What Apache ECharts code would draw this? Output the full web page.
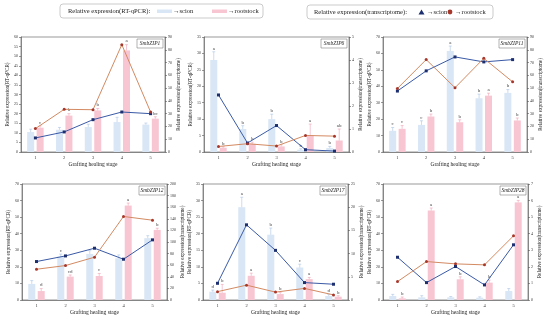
<!DOCTYPE html>
<html><head><meta charset="utf-8">
<script src="https://cdn.jsdelivr.net/npm/echarts@6/dist/echarts.min.js"></script>
<style>html,body{margin:0;padding:0;background:#fff}#c{width:550px;height:320px}</style>
</head><body><div id="c"></div>
<script>
const stages = ['1','2','3','4','5'];
const genes = ['SmbZIP1','SmbZIP6','SmbZIP11','SmbZIP12','SmbZIP17','SmbZIP28'];

const p1ScionBar = [10.4, 11.6, 13, 15.6, 14.3];
const p1RootBar  = [12.7, 19, 21.7, 53, 17.4];
const p1ScionErr = [1.5, 1.2, 1.5, 2.5, 0.8];
const p1RootErr  = [1, 1, 1, 3, 1];
const p1ScionLine = [11, 15.7, 25.3, 31.3, 30];
const p1RootLine  = [18.3, 33.4, 33.1, 84, 31.3];
const p1ScionSig = ['', '', '', '', ''];
const p1RootSig  = ['c', 'b', 'b', 'a', 'bc'];

const p2ScionBar = [28, 7, 10, 0.7, 1.2];
const p2RootBar  = [1.3, 2.5, 1.7, 5, 3.5];
const p2ScionErr = [2.5, 1, 1.5, 0.3, 0.5];
const p2RootErr  = [0.3, 0.5, 0.5, 3.5, 3.5];
const p2ScionLine = [2.48, 0.39, 1.15, 0.1, 0.04];
const p2RootLine  = [0.24, 0.36, 0.26, 0.72, 0.69];
const p2ScionSig = ['a', 'b', 'b', 'b', 'b'];
const p2RootSig  = ['b', 'b', 'b', 'a', 'ab'];

const p3ScionBar = [12.9, 16.5, 61.5, 32.7, 36];
const p3RootBar  = [14.1, 21.6, 18.1, 34.3, 19.2];
const p3ScionErr = [2, 2.5, 3, 2.5, 2];
const p3RootErr  = [2, 1.5, 1.5, 1.5, 1.5];
const p3ScionLine = [47.7, 63.5, 74.4, 70.5, 72.3];
const p3RootLine  = [49.7, 72.3, 50.3, 73.3, 54.9];
const p3ScionSig = ['c', 'c', 'a', 'b', 'b'];
const p3RootSig  = ['c', 'b', 'b', 'a', 'b'];

const p4ScionBar = [9.7, 26.2, 27.8, 25.2, 37.3];
const p4RootBar  = [5.4, 14.1, 14.5, 57, 42.3];
const p4ScionErr = [2, 1.5, 2, 2, 1.5];
const p4RootErr  = [1.5, 1, 1.5, 1.5, 1];
const p4ScionLine = [66.3, 76, 89.3, 70.3, 103.7];
const p4RootLine  = [53, 59.4, 73.8, 144, 137.6];
const p4ScionSig = ['', 'c', '', '', ''];
const p4RootSig  = ['d', 'cd', 'c', 'a', 'b'];

const p5ScionBar = [2.5, 28, 19.7, 9.8, 1.2];
const p5RootBar  = [2.2, 7.3, 1.8, 6.3, 1];
const p5ScionErr = [0.5, 3, 2, 1, 0.5];
const p5RootErr  = [2.5, 0.8, 0.5, 0.5, 0.3];
const p5ScionLine = [3.6, 16.2, 10.7, 3.75, 3.4];
const p5RootLine  = [1.8, 3.2, 1.7, 2.5, 1.1];
const p5ScionSig = ['d', 'a', 'b', 'c', 'd'];
const p5RootSig  = ['b', 'a', 'b', 'a', 'b'];

const p6ScionBar = [2.4, 1.6, 1.6, 1.4, 5.4];
const p6RootBar  = [1, 54, 12.5, 10.5, 58.9];
const p6ScionErr = [1, 1, 0.5, 0.5, 1.5];
const p6RootErr  = [0.8, 1.5, 1.5, 1.5, 1.2];
const p6ScionLine = [2.58, 1.05, 2.02, 0.91, 3.33];
const p6RootLine  = [1.11, 2.32, 2.18, 2.12, 3.87];
const p6ScionSig = ['', '', '', '', ''];
const p6RootSig  = ['b', 'a', 'b', 'b', 'a'];

const leftMax = [60, 35, 70, 70, 35, 70];
const leftStep = [5, 5, 10, 10, 5, 10];
const rightMax = [90, 5, 90, 200, 25, 7];
const rightStep = [10, 1, 10, 20, 5, 1];

const panels = [
  [p1ScionBar, p1RootBar, p1ScionErr, p1RootErr, p1ScionLine, p1RootLine, p1ScionSig, p1RootSig],
  [p2ScionBar, p2RootBar, p2ScionErr, p2RootErr, p2ScionLine, p2RootLine, p2ScionSig, p2RootSig],
  [p3ScionBar, p3RootBar, p3ScionErr, p3RootErr, p3ScionLine, p3RootLine, p3ScionSig, p3RootSig],
  [p4ScionBar, p4RootBar, p4ScionErr, p4RootErr, p4ScionLine, p4RootLine, p4ScionSig, p4RootSig],
  [p5ScionBar, p5RootBar, p5ScionErr, p5RootErr, p5ScionLine, p5RootLine, p5ScionSig, p5RootSig],
  [p6ScionBar, p6RootBar, p6ScionErr, p6RootErr, p6ScionLine, p6RootLine, p6ScionSig, p6RootSig]
];

const FONT = 'Liberation Serif';
const gridBoxes = [
  {left: 21, top: 37, width: 144, height: 115},
  {left: 204, top: 37, width: 145, height: 115},
  {left: 383, top: 37, width: 144, height: 115},
  {left: 22, top: 184, width: 145, height: 116},
  {left: 203, top: 184, width: 145, height: 116},
  {left: 383, top: 184, width: 145, height: 116}
];
const BAR_W = 7, BAR_GAP = 0.35;
const OFF = (BAR_W + BAR_W * BAR_GAP) / 2;
const SCION_BAR = '#d8e6f6', ROOT_BAR = '#f8c6d3';
const SCION_LINE = '#3a5aa6', ROOT_LINE = '#d38a62';
const SCION_MK = '#1d2f6f', ROOT_MK = '#a8372b';

const grid = [], xAxis = [], yAxis = [], series = [], graphic = [];

function errSeries(pi, vals, errs, sig, side, color) {
  return {
    type: 'custom', xAxisIndex: pi, yAxisIndex: pi * 2, z: 4, silent: true,
    data: vals.map((v, i) => [i, v, errs[i]]),
    renderItem: function (params, api) {
      const i = api.value(0), v = api.value(1), e = api.value(2);
      const b = api.coord([i, v]);
      const t = api.coord([i, v + e]);
      const x = b[0] + side * OFF;
      const kids = [
        {type: 'line', shape: {x1: x, y1: b[1], x2: x, y2: t[1]}, style: {stroke: color, lineWidth: 0.6}},
        {type: 'line', shape: {x1: x - 1.5, y1: t[1], x2: x + 1.5, y2: t[1]}, style: {stroke: color, lineWidth: 0.6}}
      ];
      const s = sig[params.dataIndex];
      if (s) kids.push({type: 'text', style: {text: s, x: x, y: t[1] - 1, align: 'center', verticalAlign: 'bottom', fontSize: 5, fontFamily: FONT, fill: '#444'}});
      return {type: 'group', children: kids};
    }
  };
}

panels.forEach((p, pi) => {
  const g = gridBoxes[pi];
  grid.push(Object.assign({show: true, borderColor: '#555', borderWidth: 0.6, backgroundColor: 'transparent'}, g));
  xAxis.push({
    type: 'category', gridIndex: pi, data: stages,
    name: 'Grafting healing stage', nameLocation: 'middle', nameGap: 10,
    nameTextStyle: {fontFamily: FONT, fontSize: 5.5, color: '#222'},
    axisLine: {lineStyle: {color: '#555', width: 0.6}},
    axisTick: {alignWithLabel: true, length: 2, lineStyle: {color: '#555', width: 0.6}},
    axisLabel: {fontFamily: FONT, fontSize: 4.5, color: '#333', margin: 3}
  });
  const yCommon = {
    type: 'value', gridIndex: pi, min: 0, nameLocation: 'middle', nameRotate: 90,
    nameTextStyle: {fontFamily: FONT, fontSize: 5.2, color: '#222'},
    axisLine: {show: true, lineStyle: {color: '#555', width: 0.6}},
    axisTick: {show: true, length: 2, lineStyle: {color: '#555', width: 0.6}},
    axisLabel: {fontFamily: FONT, fontSize: 4, color: '#333', margin: 3},
    splitLine: {show: false}
  };
  yAxis.push(Object.assign({}, yCommon, {position: 'left', max: leftMax[pi], interval: leftStep[pi], nameGap: 9, name: 'Relative expression(RT-qPCR)'}));
  yAxis.push(Object.assign({}, yCommon, {position: 'right', max: rightMax[pi], interval: rightStep[pi], nameGap: 9, name: 'Relative expression(transcriptome)'}));

  series.push({type: 'bar', name: 'scion (RT-qPCR)', xAxisIndex: pi, yAxisIndex: pi * 2, data: p[0], barWidth: BAR_W, barGap: (BAR_GAP * 100) + '%', itemStyle: {color: SCION_BAR}});
  series.push({type: 'bar', name: 'rootstock (RT-qPCR)', xAxisIndex: pi, yAxisIndex: pi * 2, data: p[1], barWidth: BAR_W, itemStyle: {color: ROOT_BAR}});
  series.push(errSeries(pi, p[0], p[2], p[6], -1, '#a9c3e3'));
  series.push(errSeries(pi, p[1], p[3], p[7], 1, '#eea3b6'));
  series.push({type: 'line', name: 'scion (transcriptome)', xAxisIndex: pi, yAxisIndex: pi * 2 + 1, data: p[4], z: 6,
    symbol: 'rect', symbolSize: 3, lineStyle: {color: SCION_LINE, width: 1}, itemStyle: {color: SCION_MK}});
  series.push({type: 'line', name: 'rootstock (transcriptome)', xAxisIndex: pi, yAxisIndex: pi * 2 + 1, data: p[5], z: 6,
    symbol: 'circle', symbolSize: 3, lineStyle: {color: ROOT_LINE, width: 1}, itemStyle: {color: ROOT_MK}});

  const bx = g.left + g.width - 28, by = g.top + 2;
  graphic.push({type: 'rect', shape: {x: bx, y: by, width: 26, height: 9}, style: {fill: '#fff', stroke: '#666', lineWidth: 0.5}, z: 10});
  graphic.push({type: 'text', x: bx + 13, y: by + 4.5, style: {text: genes[pi], align: 'center', verticalAlign: 'middle', fontFamily: FONT, fontStyle: 'italic', fontSize: 5.5, fill: '#222'}, z: 11});
});

const legFont = {fontFamily: FONT, fontSize: 6.5, fill: '#222', verticalAlign: 'middle'};
graphic.push({type: 'rect', shape: {x: 60, y: 4, width: 203, height: 14, r: 3}, style: {fill: '#fff', stroke: '#aaa', lineWidth: 0.6}});
graphic.push({type: 'text', x: 68, y: 11, style: Object.assign({text: 'Relative expression(RT-qPCR):'}, legFont)});
graphic.push({type: 'rect', shape: {x: 157, y: 9.5, width: 15, height: 3.5}, style: {fill: SCION_BAR}});
graphic.push({type: 'text', x: 173, y: 11, style: Object.assign({text: '→scion'}, legFont)});
graphic.push({type: 'rect', shape: {x: 212, y: 9.5, width: 15, height: 3.5}, style: {fill: ROOT_BAR}});
graphic.push({type: 'text', x: 228, y: 11, style: Object.assign({text: '→rootstock'}, legFont)});

graphic.push({type: 'rect', shape: {x: 307, y: 5, width: 186, height: 14, r: 3}, style: {fill: '#fff', stroke: '#aaa', lineWidth: 0.6}});
graphic.push({type: 'text', x: 314, y: 12, style: Object.assign({text: 'Relative expression(transcriptome):'}, legFont)});
graphic.push({type: 'polygon', shape: {points: [[421.5, 9.5], [418.5, 14.5], [424.5, 14.5]]}, style: {fill: SCION_MK}});
graphic.push({type: 'text', x: 427, y: 12, style: Object.assign({text: '→scion'}, legFont)});
graphic.push({type: 'circle', shape: {cx: 450, cy: 12, r: 2.4}, style: {fill: ROOT_MK}});
graphic.push({type: 'text', x: 455, y: 12, style: Object.assign({text: '→rootstock'}, legFont)});

const chart = echarts.init(document.getElementById('c'), null, {renderer: 'canvas'});
chart.setOption({animation: false, backgroundColor: '#fff', grid, xAxis, yAxis, series, graphic});
</script>
</body></html>
